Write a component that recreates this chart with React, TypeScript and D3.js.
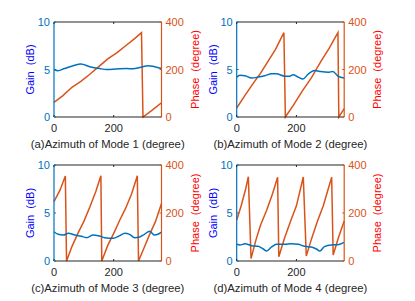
import React, { useRef, useEffect } from 'react';
import * as d3 from 'd3';

// azimuth (degree) / gain (dB) / phase (degree)
const gainAzA = [0, 13, 35, 64, 90, 120, 153, 176, 209, 243, 265, 287, 315, 337, 360];
const gainA = [5.0, 4.88, 5.1, 5.4, 5.58, 5.3, 5.1, 5.0, 5.05, 5.1, 5.08, 5.2, 5.4, 5.3, 5.1];
const phaseAzA = [0, 30, 60, 90, 120, 150, 180, 210, 240, 270, 293, 298, 330, 360];
const phaseA = [62, 90, 125, 150, 180, 212, 245, 270, 300, 330, 355, 0, 30, 60];

const gainAzB = [0, 11, 28, 50, 72, 94, 117, 133, 161, 178, 189, 206, 222, 239, 261, 278, 306, 322, 339, 360];
const gainB = [4.2, 4.4, 4.35, 4.1, 4.2, 4.35, 4.55, 4.55, 4.3, 4.3, 4.45, 4.2, 4.0, 4.5, 4.9, 4.8, 4.7, 4.8, 4.3, 4.1];
const phaseAzB = [0, 30, 60, 80, 100, 130, 158, 163, 190, 220, 250, 280, 310, 339, 342, 360];
const phaseB = [38, 95, 150, 185, 225, 285, 355, 0, 50, 110, 165, 230, 290, 355, 0, 35];

const gainAzC = [0, 14, 31, 48, 70, 92, 109, 131, 148, 170, 198, 220, 237, 253, 270, 287, 303, 320, 337, 348, 360];
const gainC = [3.05, 2.78, 2.7, 2.88, 2.7, 2.57, 2.43, 2.7, 2.64, 2.43, 2.36, 2.64, 2.9, 2.78, 2.43, 2.5, 2.78, 3.1, 2.7, 2.78, 3.0];
const phaseAzC = [0, 20, 38, 42, 60, 80, 100, 120, 140, 157, 160, 180, 200, 220, 240, 260, 279, 283, 300, 320, 340, 360];
const phaseC = [247, 295, 354, 0, 60, 115, 165, 225, 290, 355, 0, 65, 115, 170, 220, 280, 355, 0, 50, 110, 165, 240];

const gainAzD = [0, 11, 28, 50, 72, 89, 100, 117, 133, 161, 183, 206, 228, 250, 267, 278, 294, 317, 339, 360];
const gainD = [1.74, 1.67, 1.8, 1.6, 1.53, 1.25, 1.04, 1.46, 1.74, 1.74, 1.8, 1.74, 1.53, 1.46, 1.25, 1.04, 1.5, 1.67, 1.7, 1.94];
const phaseAzD = [0, 15, 30, 39, 48, 65, 80, 100, 120, 137, 141, 160, 180, 200, 223, 233, 250, 270, 290, 318, 323, 340, 360];
const phaseD = [171, 230, 300, 351, 10, 90, 150, 210, 280, 349, 18, 95, 165, 230, 350, 21, 90, 165, 230, 349, 25, 95, 167];

const xTicks = [0, 200];
const gainTicks = [0, 5, 10];
const phaseTicks = [0, 200, 400];

const panels = [
  { left: 54, top: 22, h: 95, title: '(a)Azimuth of Mode 1 (degree)', gx: gainAzA, gy: gainA, px: phaseAzA, py: phaseA },
  { left: 236.7, top: 22, h: 95, title: '(b)Azimuth of Mode 2 (degree)', gx: gainAzB, gy: gainB, px: phaseAzB, py: phaseB },
  { left: 54, top: 165, h: 96, title: '(c)Azimuth of Mode 3 (degree)', gx: gainAzC, gy: gainC, px: phaseAzC, py: phaseC },
  { left: 236.7, top: 165, h: 96, title: '(d)Azimuth of Mode 4 (degree)', gx: gainAzD, gy: gainD, px: phaseAzD, py: phaseD },
];

const BLUE = '#0072BD';
const ORANGE = '#D95319';
const FONT = '"Liberation Sans", Arial, Helvetica, sans-serif';

const App = () => {
  const ref = useRef(null);

  useEffect(() => {
    const root = d3.select(ref.current);
    root.selectAll('*').remove();
    const svg = root.append('svg')
      .attr('width', 415)
      .attr('height', 301)
      .style('position', 'absolute')
      .style('left', 0)
      .style('top', 0)
      .style('background', '#fff')
      .style('font-family', FONT);

    panels.forEach(p => {
      const w = 107.5;
      const x = d3.scaleLinear().domain([0, 360]).range([0, w]);
      const yG = d3.scaleLinear().domain([0, 10]).range([p.h, 0]);
      const yP = d3.scaleLinear().domain([0, 400]).range([p.h, 0]);
      const g = svg.append('g').attr('transform', `translate(${p.left},${p.top})`);

      // data lines
      const line = d3.line();
      g.append('path')
        .attr('d', line(p.px.map((v, i) => [x(v), yP(p.py[i])])))
        .attr('fill', 'none').attr('stroke', ORANGE).attr('stroke-width', 1.5);
      g.append('path')
        .attr('d', d3.line().curve(d3.curveMonotoneX)(p.gx.map((v, i) => [x(v), yG(p.gy[i])])))
        .attr('fill', 'none').attr('stroke', BLUE).attr('stroke-width', 1.5);

      // box
      g.append('line').attr('x1', 0).attr('x2', w).attr('y1', 0).attr('y2', 0).attr('stroke', '#262626').attr('stroke-width', 1.2);
      g.append('line').attr('x1', 0).attr('x2', w).attr('y1', p.h).attr('y2', p.h).attr('stroke', '#262626').attr('stroke-width', 1.2);
      g.append('line').attr('x1', 0).attr('x2', 0).attr('y1', 0).attr('y2', p.h).attr('stroke', BLUE).attr('stroke-width', 1.2);
      g.append('line').attr('x1', w).attr('x2', w).attr('y1', 0).attr('y2', p.h).attr('stroke', ORANGE).attr('stroke-width', 1.2);

      // x ticks
      xTicks.forEach(t => {
        g.append('line').attr('x1', x(t)).attr('x2', x(t)).attr('y1', p.h).attr('y2', p.h - 2).attr('stroke', '#262626');
        g.append('line').attr('x1', x(t)).attr('x2', x(t)).attr('y1', 0).attr('y2', 2).attr('stroke', '#262626');
        g.append('text').attr('x', x(t)).attr('y', p.h + 15).attr('text-anchor', 'middle')
          .attr('font-size', 11).attr('fill', '#262626').text(t);
      });

      gainTicks.forEach(t => {
        g.append('line').attr('x1', 0).attr('x2', 2).attr('y1', yG(t)).attr('y2', yG(t)).attr('stroke', BLUE);
        g.append('text').attr('x', -4).attr('y', yG(t) + 4).attr('text-anchor', 'end')
          .attr('font-size', 11).attr('fill', BLUE).text(t);
      });
      phaseTicks.forEach(t => {
        g.append('line').attr('x1', w).attr('x2', w - 2).attr('y1', yP(t)).attr('y2', yP(t)).attr('stroke', ORANGE);
        g.append('text').attr('x', w + 4).attr('y', yP(t) + 4).attr('text-anchor', 'start')
          .attr('font-size', 11).attr('fill', ORANGE).text(t);
      });

      // axis labels
      g.append('text')
        .attr('transform', `translate(${-20},${p.h / 2}) rotate(-90)`)
        .attr('text-anchor', 'middle').attr('font-size', 11).attr('fill', '#0000FF')
        .style('white-space', 'pre').text('Gain  (dB)');
      g.append('text')
        .attr('transform', `translate(${w + 37},${p.h / 2}) rotate(-90)`)
        .attr('text-anchor', 'middle').attr('font-size', 11).attr('fill', '#FF0000')
        .style('white-space', 'pre').text('Phase  (degree)');

      g.append('text').attr('x', w / 2).attr('y', p.h + 31).attr('text-anchor', 'middle')
        .attr('font-size', 11.3).attr('fill', '#262626').text(p.title);
    });
  }, []);

  return <div ref={ref}></div>;
};

export default App;
